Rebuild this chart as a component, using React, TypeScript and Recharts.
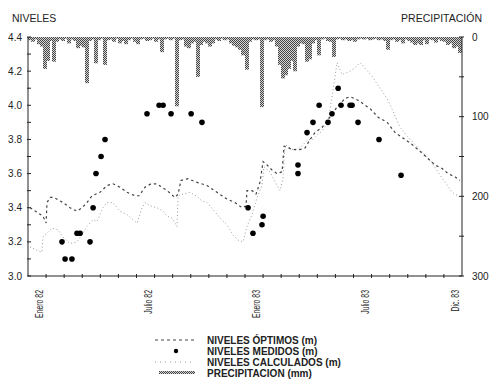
// @ts-nocheck
import { ComposedChart, Bar, Line, Scatter, XAxis, YAxis, Legend } from 'recharts'

// x = months from the start of Jan 1982
const X_MONTH_TICKS = [1, 2, 3, 4, 5, 6, 7, 8, 9, 10, 11, 12, 13, 14, 15, 16, 17, 18, 19, 20, 21, 22, 23]
const X_LABEL_POS = [0.5, 6.5, 12.5, 18.5, 23.5]
const X_LABELS = ['Enero 82', 'Julio 82', 'Enero 83', 'Julio 83', 'Dic. 83']

const LEFT_TICKS = [3.0, 3.1, 3.2, 3.3, 3.4, 3.5, 3.6, 3.7, 3.8, 3.9, 4.0, 4.1, 4.2, 4.3, 4.4]
const RIGHT_TICKS = [0, 50, 100, 150, 200, 250, 300]

// niveles óptimos (m)
const OPTIMOS = [
  [0.11, 3.40], [0.55, 3.37], [0.83, 3.35], [1.0, 3.31], [1.05, 3.43], [1.22, 3.46], [1.44, 3.46],
  [1.94, 3.43], [2.32, 3.40], [2.71, 3.38], [2.99, 3.40], [3.26, 3.43], [3.54, 3.47], [3.98, 3.49],
  [4.37, 3.53], [4.70, 3.54], [5.09, 3.52], [5.48, 3.49], [5.92, 3.47], [6.14, 3.47], [6.47, 3.52],
  [6.80, 3.54], [7.13, 3.54], [7.69, 3.50], [8.13, 3.46], [8.30, 3.48], [8.46, 3.56], [8.85, 3.57],
  [9.29, 3.55], [9.90, 3.53], [10.45, 3.49], [11.01, 3.45], [11.45, 3.43], [11.84, 3.40], [12.06, 3.41],
  [12.11, 3.50], [12.39, 3.50], [12.61, 3.48], [12.83, 3.55], [13.00, 3.67], [13.22, 3.65], [13.50, 3.62],
  [13.77, 3.60], [14.05, 3.61], [14.16, 3.76], [14.66, 3.74], [15.04, 3.74], [15.32, 3.75], [15.60, 3.80],
  [15.87, 3.84], [16.26, 3.87], [16.70, 3.93], [17.09, 3.99], [17.53, 4.04], [17.81, 4.05], [18.25, 4.03],
  [18.92, 3.98], [19.36, 3.93], [19.86, 3.90], [20.30, 3.84], [20.85, 3.80], [21.24, 3.77], [21.79, 3.72],
  [22.51, 3.65], [22.90, 3.63], [23.23, 3.60], [23.62, 3.58], [23.89, 3.56],
]

// niveles calculados (m)
const CALCULADOS = [
  [0.11, 3.17], [0.50, 3.15], [0.77, 3.14], [0.83, 3.23], [1.05, 3.25], [1.33, 3.28], [1.66, 3.27],
  [1.99, 3.22], [2.32, 3.19], [2.71, 3.20], [3.04, 3.25], [3.26, 3.29], [3.60, 3.33], [3.82, 3.32],
  [4.15, 3.40], [4.37, 3.43], [4.70, 3.43], [5.09, 3.38], [5.48, 3.36], [5.92, 3.32], [6.03, 3.31],
  [6.31, 3.40], [6.47, 3.43], [6.80, 3.41], [7.13, 3.40], [7.47, 3.38], [7.69, 3.35], [7.96, 3.34],
  [8.24, 3.29], [8.30, 3.47], [8.57, 3.48], [8.96, 3.49], [9.29, 3.47], [9.62, 3.44], [9.90, 3.43],
  [10.23, 3.39], [10.62, 3.34], [11.01, 3.30], [11.34, 3.24], [11.62, 3.21], [11.89, 3.20], [12.11, 3.29],
  [12.39, 3.36], [12.67, 3.46], [12.94, 3.53], [13.05, 3.64], [13.38, 3.61], [13.77, 3.53], [13.94, 3.50],
  [14.10, 3.57], [14.21, 3.77], [14.66, 3.74], [15.04, 3.75], [15.49, 3.80], [15.76, 3.80], [16.04, 3.83],
  [16.26, 3.85], [16.59, 3.90], [16.87, 4.09], [17.09, 4.25], [17.37, 4.18], [17.81, 4.20], [18.09, 4.22],
  [18.36, 4.25], [19.03, 4.17], [19.47, 4.10], [19.91, 4.03], [20.58, 3.87], [21.13, 3.80], [21.68, 3.74],
  [22.23, 3.68], [22.79, 3.59], [23.06, 3.55], [23.45, 3.49], [23.78, 3.47],
]

// niveles medidos (m)
const MEDIDOS = [
  [1.88, 3.20], [2.05, 3.10], [2.43, 3.10], [2.71, 3.25], [2.88, 3.25], [3.43, 3.20], [3.60, 3.40],
  [3.76, 3.60], [4.04, 3.70], [4.26, 3.80], [6.58, 3.95], [7.25, 4.00], [7.47, 4.00], [7.91, 3.95],
  [9.02, 3.95], [9.62, 3.90], [12.17, 3.40], [12.44, 3.25], [12.94, 3.30], [13.00, 3.35], [14.93, 3.65],
  [14.93, 3.60], [15.43, 3.84], [15.76, 3.90], [16.10, 4.00], [16.59, 3.90], [16.81, 3.95], [17.15, 4.10],
  [17.31, 4.00], [17.81, 4.00], [17.92, 4.00], [18.25, 3.90], [19.41, 3.80], [20.63, 3.59],
]

// precipitación (mm), one value per 5-day period, Jan 82 - Dec 83
const PRECIP_MM = [
  4, 6, 3, 9, 12, 40, 30, 5, 31, 6, 3, 5, 2, 8, 3, 5, 14, 11, 13, 58, 5, 3, 33, 4,
  2, 35, 4, 3, 6, 2, 8, 5, 9, 4, 2, 6, 9, 3, 2, 5, 4, 2, 6, 3, 19, 3, 2, 4,
  2, 87, 4, 3, 12, 14, 8, 6, 50, 10, 6, 8, 12, 8, 3, 5, 2, 4, 3, 8, 11, 13, 16, 23,
  41, 6, 3, 4, 3, 88, 4, 3, 6, 4, 12, 35, 52, 48, 40, 30, 43, 12, 8, 9, 31, 28, 8, 4,
  23, 3, 2, 5, 6, 25, 3, 2, 4, 3, 5, 4, 6, 3, 2, 3, 2, 4, 3, 2, 4, 3, 5, 16,
  4, 3, 6, 4, 8, 3, 5, 7, 10, 8, 10, 4, 9, 3, 4, 7, 3, 5, 6, 10, 8, 14, 12, 20,
]

const precipData = PRECIP_MM.map((mm, i) => ({ m: (i + 0.5) / 6, mm }))
const optData = OPTIMOS.map(([m, v]) => ({ m, v }))
const calcData = CALCULADOS.map(([m, v]) => ({ m, v }))
const medData = MEDIDOS.map(([m, v]) => ({ m, v }))

const FONT = 'Arial, "Liberation Sans", sans-serif'
const INK = '#222'
const PRECIP_FILL = 'url(#precipPat) #888'

const XTick = ({ x, y, payload }) => {
  const v = payload.value
  const idx = X_LABEL_POS.indexOf(v)
  if (idx < 0) return <line x1={x} x2={x} y1={y - 2} y2={y + 2} stroke={INK} />
  return (
    <text
      transform={`translate(${x + 6},${y + 14}) rotate(-90) scale(0.6,1)`}
      textAnchor="end"
      fontSize={11.5}
      fontFamily={FONT}
      fill={INK}
    >
      {X_LABELS[idx]}
    </text>
  )
}

const LeftTick = ({ x, y, payload }) => {
  const v = payload.value
  const major = Math.round(v * 10) % 2 === 0
  return (
    <g>
      <line x1={x - 1} x2={x + 3} y1={y} y2={y} stroke={INK} />
      {major && (
        <text x={x - 6} y={y} dy="0.35em" textAnchor="end" fontSize={10} fontFamily={FONT} fill={INK}>
          {v.toFixed(1)}
        </text>
      )}
    </g>
  )
}

const RightTick = ({ x, y, payload }) => {
  const v = payload.value
  return (
    <g>
      <line x1={x - 3} x2={x + 2} y1={y} y2={y} stroke={INK} />
      {v % 100 === 0 && (
        <text x={x + 10} y={y} dy="0.35em" textAnchor="start" fontSize={10} fontFamily={FONT} fill={INK}>
          {v}
        </text>
      )}
    </g>
  )
}

// bar drawn at a fixed width, centred on its slot
const PrecipBar = (p) => {
  const cx = p.x + p.width / 2
  const top = Math.min(p.y, p.y + p.height)
  const h = Math.abs(p.height)
  return <rect x={Math.round(cx - 2)} y={top} width={4} height={h} fill={PRECIP_FILL} />
}

const LEGEND_ROWS = ['NIVELES ÓPTIMOS (m)', 'NIVELES MEDIDOS (m)', 'NIVELES CALCULADOS (m)', 'PRECIPITACION (mm)']

const LegendBox = () => (
  <svg width={210} height={48} style={{ display: 'block' }}>
    <defs>
      <pattern id="precipPat" width="2" height="2" patternUnits="userSpaceOnUse">
        <rect width="2" height="2" fill="#d4d4d4" />
        <rect width="1" height="1" fill="#444" />
        <rect x="1" y="1" width="1" height="1" fill="#444" />
      </pattern>
    </defs>
    <line x1={5} x2={45} y1={8} y2={8} stroke="#444" strokeDasharray="3 3" />
    <circle cx={26} cy={19} r={2.2} fill="#000" />
    <line x1={5} x2={45} y1={30} y2={30} stroke="#999" strokeDasharray="1 4" />
    <rect x={9} y={39} width={36} height={3} fill={PRECIP_FILL} />
    {LEGEND_ROWS.map((t, i) => (
      <text key={t} x={57} y={8 + i * 11} dy="0.35em" fontSize={10} fontWeight="bold" fontFamily={FONT} fill={INK}>
        {t}
      </text>
    ))}
  </svg>
)

export default function App() {
  return (
    <div style={{ position: 'absolute', left: 0, top: 0, width: 495, height: 383, background: '#fff' }}>
      <ComposedChart width={495} height={383} data={precipData} margin={{ top: 37, right: 0, bottom: 57, left: 0 }}>
        <XAxis
          dataKey="m"
          type="number"
          domain={[0, 24]}
          ticks={[...X_MONTH_TICKS, ...X_LABEL_POS].sort((a, b) => a - b)}
          interval={0}
          height={50}
          tickSize={0}
          tickMargin={0}
          tickLine={false}
          tick={XTick}
          axisLine={{ stroke: INK }}
          allowDataOverflow
        />
        <YAxis
          yAxisId="left"
          orientation="left"
          width={28}
          domain={[3.0, 4.4]}
          ticks={LEFT_TICKS}
          interval={0}
          tickSize={0}
          tickMargin={0}
          tickLine={false}
          tick={LeftTick}
          axisLine={{ stroke: INK }}
          allowDataOverflow
        />
        <YAxis
          yAxisId="right"
          orientation="right"
          width={33}
          domain={[0, 300]}
          reversed
          ticks={RIGHT_TICKS}
          interval={0}
          tickSize={0}
          tickMargin={0}
          tickLine={false}
          tick={RightTick}
          axisLine={{ stroke: INK }}
        />
        <Bar yAxisId="right" dataKey="mm" barSize={3} shape={PrecipBar} fill="#888" isAnimationActive={false} />
        <Line
          yAxisId="left"
          data={calcData}
          dataKey="v"
          type="linear"
          stroke="#9a9a9a"
          strokeWidth={1}
          strokeDasharray="1 2.5"
          dot={false}
          isAnimationActive={false}
        />
        <Line
          yAxisId="left"
          data={optData}
          dataKey="v"
          type="linear"
          stroke="#444"
          strokeWidth={1.2}
          strokeDasharray="2.5 3"
          dot={false}
          isAnimationActive={false}
        />
        <Scatter
          yAxisId="left"
          data={medData}
          dataKey="v"
          isAnimationActive={false}
          shape={(p) => <circle cx={p.cx} cy={p.cy} r={2.8} fill="#000" />}
        />
        <text x={12} y={22} fontSize={10.5} fontFamily={FONT} fill={INK}>NIVELES</text>
        <text x={482} y={22} textAnchor="end" fontSize={10.5} fontFamily={FONT} fill={INK}>PRECIPITACIÓN</text>
        <Legend
          layout="vertical"
          align="center"
          verticalAlign="middle"
          content={LegendBox}
          wrapperStyle={{ left: 150, top: 332, width: 210, height: 48 }}
        />
      </ComposedChart>
    </div>
  )
}
